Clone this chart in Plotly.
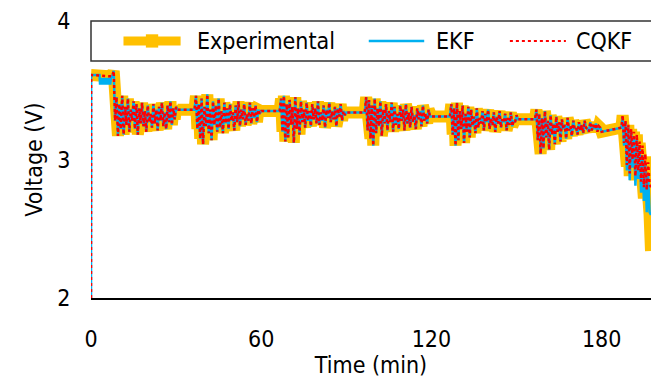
import plotly.graph_objects as go

# ---------------- data ----------------
# x axis ticks
x_ticks = [0, 60, 120, 180]
y_ticks = [2, 3, 4]

# start of the test (battery at rest, filters initialised at 2 V)
t_exp_start = [0.0, 7.5]
v_exp_start = [3.61, 3.60]
t_ekf_start = [0.0, 0.05, 3.0, 3.2, 3.4, 3.6, 3.8, 4.0, 4.2, 4.4, 4.6, 4.8,
               5.0, 5.2, 5.4, 5.6, 5.8, 6.0, 6.2, 6.4, 6.6, 6.8, 7.0, 7.5]
v_ekf_start = [2.00, 3.61, 3.61, 3.54, 3.59, 3.54, 3.59, 3.54, 3.59, 3.54, 3.59, 3.54,
               3.59, 3.54, 3.59, 3.54, 3.59, 3.54, 3.59, 3.54, 3.59, 3.54, 3.59, 3.60]
t_cqkf_start = [0.0, 0.05, 7.5]
v_cqkf_start = [2.00, 3.61, 3.60]

# load-profile blocks, sampled every 0.5 min (start time, voltages)
sample_step = 0.5
block1_start, block1 = 8.0, [
    3.64, 3.28, 3.45, 3.17, 3.40, 3.22, 3.46, 3.18, 3.38, 3.25,
    3.44, 3.20, 3.36, 3.28, 3.42, 3.22, 3.40, 3.18, 3.37, 3.26,
    3.41, 3.24, 3.35, 3.20, 3.39, 3.27, 3.33, 3.23, 3.40, 3.26,
    3.36, 3.21, 3.38, 3.28, 3.41, 3.24, 3.34, 3.22, 3.39, 3.27,
    3.42, 3.25, 3.37, 3.29, 3.38]
block2_start, block2 = 37.0, [
    3.46, 3.22, 3.40, 3.15, 3.44, 3.11, 3.38, 3.24, 3.47, 3.19,
    3.36, 3.14, 3.42, 3.25, 3.39, 3.20, 3.44, 3.23, 3.35, 3.19,
    3.41, 3.26, 3.37, 3.22, 3.40, 3.28, 3.34, 3.21, 3.39, 3.27,
    3.42, 3.24, 3.36, 3.29, 3.40, 3.25, 3.33, 3.28, 3.41, 3.26,
    3.37, 3.30, 3.39, 3.27, 3.36, 3.33]
block3_start, block3 = 67.0, [
    3.44, 3.20, 3.46, 3.13, 3.40, 3.16, 3.43, 3.25, 3.38, 3.12,
    3.45, 3.22, 3.37, 3.18, 3.42, 3.27, 3.36, 3.23, 3.41, 3.28,
    3.35, 3.24, 3.40, 3.29, 3.37, 3.26, 3.42, 3.25, 3.34, 3.28,
    3.39, 3.23, 3.36, 3.30, 3.41, 3.27, 3.35, 3.29, 3.38, 3.24,
    3.37, 3.31, 3.40, 3.28, 3.35, 3.32]
block4_start, block4 = 97.0, [
    3.45, 3.21, 3.43, 3.15, 3.39, 3.10, 3.44, 3.19, 3.37, 3.24,
    3.42, 3.17, 3.36, 3.26, 3.40, 3.21, 3.35, 3.27, 3.41, 3.20,
    3.38, 3.25, 3.33, 3.22, 3.39, 3.28, 3.36, 3.21, 3.40, 3.26,
    3.34, 3.23, 3.38, 3.27, 3.32, 3.22, 3.37, 3.29, 3.35, 3.24,
    3.39, 3.28, 3.33, 3.26, 3.36, 3.31]
block5_start, block5 = 127.0, [
    3.40, 3.18, 3.37, 3.10, 3.41, 3.14, 3.35, 3.22, 3.39, 3.12,
    3.33, 3.20, 3.38, 3.16, 3.36, 3.24, 3.31, 3.19, 3.37, 3.23,
    3.30, 3.26, 3.35, 3.21, 3.33, 3.27, 3.36, 3.22, 3.30, 3.25,
    3.34, 3.20, 3.31, 3.26, 3.35, 3.23, 3.29, 3.27, 3.33, 3.21,
    3.30, 3.25, 3.34, 3.24, 3.28, 3.27, 3.32, 3.29]
block6_start, block6 = 157.0, [
    3.36, 3.14, 3.33, 3.04, 3.30, 3.08, 3.35, 3.16, 3.28, 3.07,
    3.32, 3.18, 3.26, 3.11, 3.31, 3.20, 3.27, 3.13, 3.29, 3.22,
    3.25, 3.15, 3.30, 3.21, 3.24, 3.17, 3.28, 3.22, 3.23, 3.18,
    3.27, 3.21, 3.25, 3.19, 3.28, 3.23, 3.22, 3.20, 3.27, 3.21,
    3.25, 3.22, 3.26, 3.20, 3.24, 3.23]

# rest periods between blocks: (begin, end, voltage at begin, voltage at end)
rests = [
    (30.5, 36.5, 3.36, 3.36),
    (60.0, 66.5, 3.35, 3.35),
    (90.0, 96.5, 3.34, 3.34),
    (120.0, 126.5, 3.31, 3.31),
    (151.0, 156.5, 3.29, 3.29),
    (180.0, 187.0, 3.20, 3.23),
]

# final block (end of discharge), sampled every 0.5 min
end_start = 187.4
v_exp_end = [3.32, 3.12, 3.28, 2.95, 3.25, 2.88, 3.22, 2.98, 3.20, 2.85,
             3.18, 2.90, 3.12, 2.80, 3.08, 2.72, 3.02, 2.66, 2.95, 2.60, 2.34]
v_ekf_end = [3.31, 3.10, 3.27, 2.92, 3.23, 2.85, 3.20, 2.94, 3.17, 2.81,
             3.14, 2.86, 3.08, 2.76, 3.03, 2.70, 2.97, 2.62, 2.88, 2.62, 2.60]
v_cqkf_end = [3.32, 3.12, 3.28, 2.96, 3.25, 2.90, 3.22, 3.00, 3.20, 2.88,
              3.18, 2.92, 3.13, 2.84, 3.10, 2.80, 3.04, 2.78, 2.98, 2.82, 2.80]

# ---------------- assemble the series ----------------
blocks = [(block1_start, block1), (block2_start, block2), (block3_start, block3),
          (block4_start, block4), (block5_start, block5), (block6_start, block6)]
t_mid, v_mid = [], []
for (b_start, vals), (r0, r1, rv0, rv1) in zip(blocks, rests):
    t_mid += [b_start + sample_step * i for i in range(len(vals))]
    v_mid += vals
    t_mid += [r0, r1]
    v_mid += [rv0, rv1]
t_end = [end_start + sample_step * i for i in range(len(v_exp_end))]

t_exp = t_exp_start + t_mid + t_end
v_exp = v_exp_start + v_mid + v_exp_end
t_ekf = t_ekf_start + t_mid + t_end
v_ekf = v_ekf_start + v_mid + v_ekf_end
t_cqkf = t_cqkf_start + t_mid + t_end
v_cqkf = v_cqkf_start + v_mid + v_cqkf_end

YELLOW = "#FFC000"
BLUE = "#00B0F0"
RED = "#FF0000"
FONT = "Liberation Sans Narrow, DejaVu Sans Condensed, Liberation Sans, Arial"
FS = 23
NBSP = "\u00a0"

fig = go.Figure()
fig.add_trace(go.Scatter(x=t_exp, y=v_exp, mode="lines", name="Experimental",
                         line=dict(color=YELLOW, width=12), showlegend=False))
fig.add_trace(go.Scatter(x=t_ekf, y=v_ekf, mode="lines", name="EKF",
                         line=dict(color=BLUE, width=2.5), showlegend=False))
fig.add_trace(go.Scatter(x=t_cqkf, y=v_cqkf, mode="lines", name="CQKF",
                         line=dict(color=RED, width=2.5, dash="dot"), showlegend=False))

# legend box and entries (drawn in paper coordinates)
ly = 0.928
shapes = [
    dict(type="rect", xref="paper", yref="paper", x0=0, x1=1.02, y0=0.856, y1=1.0,
         line=dict(color="#333333", width=1.5), fillcolor="white", layer="above"),
    dict(type="line", xref="paper", yref="paper", x0=0.058, x1=0.160, y0=ly, y1=ly,
         line=dict(color=YELLOW, width=9), layer="above"),
    dict(type="rect", xref="paper", yref="paper", x0=0.098, x1=0.120, y0=ly - 0.024, y1=ly + 0.024,
         line=dict(color=YELLOW, width=0), fillcolor=YELLOW, layer="above"),
    dict(type="line", xref="paper", yref="paper", x0=0.496, x1=0.595, y0=ly, y1=ly,
         line=dict(color=BLUE, width=2.5), layer="above"),
    dict(type="line", xref="paper", yref="paper", x0=0.748, x1=0.848, y0=ly, y1=ly,
         line=dict(color=RED, width=2, dash="dot"), layer="above"),
]
ann_font = dict(family=FONT, size=FS, color="black")
annotations = [
    dict(text="Experimental", x=0.185, y=ly, xref="paper", yref="paper",
         xanchor="left", yanchor="middle", showarrow=False, font=ann_font),
    dict(text="EKF", x=0.612, y=ly, xref="paper", yref="paper",
         xanchor="left", yanchor="middle", showarrow=False, font=ann_font),
    dict(text="CQKF", x=0.862, y=ly, xref="paper", yref="paper",
         xanchor="left", yanchor="middle", showarrow=False, font=ann_font),
]

fig.update_layout(
    width=651, height=378,
    margin=dict(l=91, r=0, t=21, b=80),
    paper_bgcolor="white", plot_bgcolor="white",
    font=dict(family=FONT, size=FS, color="black"),
    shapes=shapes, annotations=annotations,
    showlegend=False,
)
fig.update_xaxes(range=[0, 197.4], tickvals=x_ticks, ticktext=[str(v) for v in x_ticks],
                 showgrid=False, zeroline=False, showline=True, linecolor="black",
                 linewidth=1.5, ticks="", ticklabelstandoff=20,
                 title=dict(text="Time (min)", standoff=0, font=dict(size=FS)))
fig.update_yaxes(range=[2, 4], tickvals=y_ticks,
                 ticktext=[str(v) + NBSP * 3 for v in y_ticks],
                 showgrid=False, zeroline=False, showline=False, ticks="",
                 title=dict(text="Voltage (V)", standoff=8, font=dict(size=FS)))

fig.write_html("out.html")
